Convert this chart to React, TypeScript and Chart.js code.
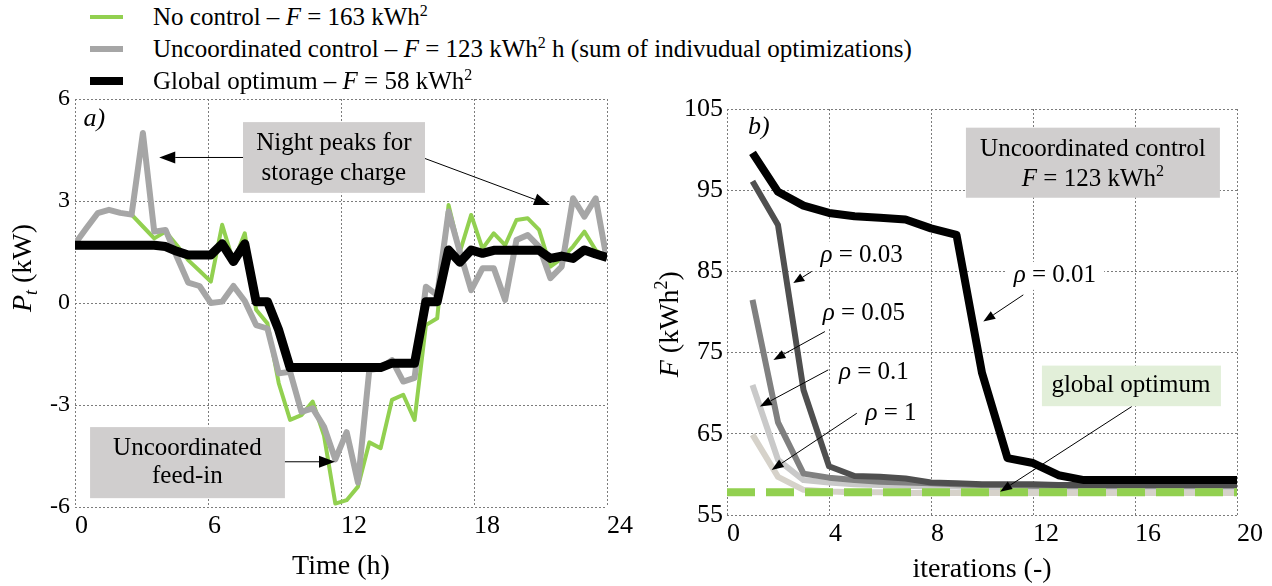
import React, { useEffect, useRef } from "react";
import { Chart, registerables } from "chart.js";

Chart.register(...registerables);

const SERIF = '"Liberation Serif", "Times New Roman", Times, serif';

// ---------------- panel a) : power profiles ----------------
const HOURS_PER_STEP = 24 / 47;
const timeHours: number[] = Array.from({ length: 48 }, (_, i) => i * HOURS_PER_STEP);

const noControlKW = [
  1.74, 2.2, 2.64, 2.74, 2.65, 2.6, 2.25, 1.9, 2.1, 1.7, 1.26, 0.95,
  0.63, 2.3, 1.2, 2.05, -0.2, -0.6, -2.36, -3.44, -3.3, -2.9, -3.9, -5.9,
  -5.8, -5.4, -4.1, -4.27, -2.85, -2.7, -3.44, -0.65, -0.45, 2.88, 1.5, 2.59,
  1.6, 2.05, 1.7, 2.44, 2.49, 2.15, 1.07, 1.31, 1.66, 2.1, 1.56, 1.3,
];

const uncoordinatedKW = [
  1.74, 2.2, 2.64, 2.74, 2.65, 2.6, 5.0, 2.1, 2.15, 1.36, 0.6, 0.5,
  0.0, 0.04, 0.5, 0.06, -0.65, -0.75, -2.07, -2.02, -3.2, -3.1, -3.64, -4.6,
  -3.8, -5.28, -1.97, -1.92, -1.68, -2.31, -2.2, 0.48, 0.23, 2.69, 1.5, 0.38,
  1.02, 1.02, 0.09, 1.85, 2.0, 1.66, 0.73, 1.07, 3.08, 2.54, 3.08, 1.26,
];

const globalOptimumKW = [
  1.7, 1.7, 1.7, 1.7, 1.7, 1.7, 1.7, 1.7, 1.66, 1.52, 1.41, 1.41,
  1.41, 1.74, 1.22, 1.74, 0.04, 0.04, -0.8, -1.9, -1.9, -1.9, -1.9, -1.9,
  -1.9, -1.9, -1.9, -1.9, -1.77, -1.77, -1.77, 0.04, 0.04, 1.56, 1.2, 1.56,
  1.46, 1.55, 1.55, 1.55, 1.55, 1.55, 1.31, 1.38, 1.31, 1.56, 1.44, 1.34,
];

const timeRange = [0, 24];
const timeTickStep = 6;
const powerRange = [-6, 6];
const powerTickStep = 3;

// ---------------- panel b) : convergence ----------------
const iterations = [1, 2, 3, 4, 5, 6, 7, 8, 9, 10, 11, 12, 13, 14, 15, 16, 17, 18, 19, 20];
const fRho001 = [99.6, 94.8, 93.1, 92.2, 91.8, 91.6, 91.4, 90.3, 89.5, 72.5, 62.0, 61.4, 59.9, 59.3, 59.3, 59.3, 59.3, 59.3, 59.3, 59.3];
const fRho003 = [96.1, 90.7, 70.4, 61.0, 59.8, 59.7, 59.5, 59.0, 58.9, 58.8, 58.8, 58.8, 58.7, 58.7, 58.7, 58.7, 58.7, 58.7, 58.7, 58.7];
const fRho005 = [81.5, 66.4, 60.1, 59.6, 59.3, 59.1, 59.0, 58.9, 58.8, 58.7, 58.7, 58.6, 58.6, 58.6, 58.6, 58.6, 58.6, 58.6, 58.6, 58.6];
const fRho01 = [71.0, 61.8, 59.3, 59.0, 58.8, 58.7, 58.6, 58.5, 58.5, 58.4, 58.4, 58.4, 58.4, 58.4, 58.4, 58.4, 58.4, 58.4, 58.4, 58.4];
const fRho1 = [64.9, 59.7, 58.1, 57.9, 57.8, 57.8, 57.7, 57.7, 57.7, 57.7, 57.7, 57.7, 57.7, 57.7, 57.7, 57.7, 57.7, 57.7, 57.7, 57.7];
const fGlobalOptimum = 57.8;
const iterationRange = [0, 20];
const iterationTickStep = 4;
const fRange = [55, 105];
const fTickStep = 10;

// ---------------- drawing helpers ----------------
type Part = { t: string; i?: boolean; sup?: boolean; sub?: boolean };

function partFont(p: Part, size: number) {
  const s = p.sup || p.sub ? Math.round(size * 0.65) : size;
  return `${p.i ? "italic " : ""}${s}px ${SERIF}`;
}

function measureRich(ctx: CanvasRenderingContext2D, parts: Part[], size: number) {
  return parts.map((p) => {
    ctx.font = partFont(p, size);
    return ctx.measureText(p.t).width;
  });
}

function drawRich(
  ctx: CanvasRenderingContext2D,
  parts: Part[],
  x: number,
  y: number,
  align: "left" | "center",
  size: number
) {
  const widths = measureRich(ctx, parts, size);
  const total = widths.reduce((a, b) => a + b, 0);
  let cx = align === "center" ? x - total / 2 : x;
  ctx.textAlign = "left";
  ctx.textBaseline = "middle";
  ctx.fillStyle = "#000";
  parts.forEach((p, k) => {
    ctx.font = partFont(p, size);
    const dy = p.sup ? -size * 0.3 : p.sub ? size * 0.28 : 0;
    ctx.fillText(p.t, cx, y + dy);
    cx += widths[k];
  });
  return total;
}

function arrow(
  ctx: CanvasRenderingContext2D,
  x1: number,
  y1: number,
  x2: number,
  y2: number,
  len: number,
  wid: number
) {
  const a = Math.atan2(y2 - y1, x2 - x1);
  const bx = x2 - len * Math.cos(a);
  const by = y2 - len * Math.sin(a);
  ctx.strokeStyle = "#000";
  ctx.lineWidth = 1;
  ctx.beginPath();
  ctx.moveTo(x1, y1);
  ctx.lineTo(bx, by);
  ctx.stroke();
  ctx.beginPath();
  ctx.moveTo(x2, y2);
  ctx.lineTo(bx + (wid / 2) * Math.sin(a), by - (wid / 2) * Math.cos(a));
  ctx.lineTo(bx - (wid / 2) * Math.sin(a), by + (wid / 2) * Math.cos(a));
  ctx.closePath();
  ctx.fillStyle = "#000";
  ctx.fill();
}

const rhoParts = (v: string): Part[] => [{ t: "ρ", i: true }, { t: " = " + v }];

// ---------------- shared axis styling ----------------
const gridStyle = { color: "#7c7c7c", lineWidth: 1, drawTicks: false };
const borderStyle = { display: false, dash: [2, 2] };

function tickFont(size: number) {
  return { family: SERIF, size };
}

// ---------------- panel a) annotations ----------------
const annotationsA = {
  id: "annotationsA",
  beforeDatasetsDraw(chart: any) {
    const { ctx } = chart;
    const { x, y } = chart.scales;
    ctx.save();
    ctx.fillStyle = "#d0cece";
    const box = (t0: number, v0: number, t1: number, v1: number) => {
      const px0 = x.getPixelForValue(t0);
      const py0 = y.getPixelForValue(v0);
      ctx.fillRect(px0, py0, x.getPixelForValue(t1) - px0, y.getPixelForValue(v1) - py0);
    };
    box(7.58, 5.32, 15.79, 3.24);
    box(0.68, -3.65, 9.47, -5.74);
    ctx.restore();
  },
  afterDatasetsDraw(chart: any) {
    const { ctx } = chart;
    const { x, y } = chart.scales;
    const X = (v: number) => x.getPixelForValue(v);
    const Y = (v: number) => y.getPixelForValue(v);
    ctx.save();
    drawRich(ctx, [{ t: "a)", i: true }], X(0.38), Y(5.42), "left", 26);
    drawRich(ctx, [{ t: "Night peaks for" }], X(11.68), Y(4.7), "center", 25);
    drawRich(ctx, [{ t: "storage charge" }], X(11.68), Y(3.81), "center", 25);
    arrow(ctx, X(7.58), Y(4.28), X(3.8), Y(4.28), 16, 12);
    arrow(ctx, X(15.79), Y(4.25), X(21.43), Y(2.88), 16, 12);
    drawRich(ctx, [{ t: "Uncoordinated" }], X(5.07), Y(-4.27), "center", 25);
    drawRich(ctx, [{ t: "feed-in" }], X(5.07), Y(-5.11), "center", 25);
    arrow(ctx, X(9.47), Y(-4.67), X(11.73), Y(-4.67), 16, 12);
    // y axis title
    ctx.translate(chart.chartArea.left - 51, Y(1.03));
    ctx.rotate(-Math.PI / 2);
    drawRich(ctx, [{ t: "P", i: true }, { t: "t", i: true, sub: true }, { t: " (kW)" }], 0, 0, "center", 28);
    ctx.restore();
  },
};

// ---------------- panel b) annotations ----------------
const annotationsB = {
  id: "annotationsB",
  beforeDatasetsDraw(chart: any) {
    const { ctx } = chart;
    const { x, y } = chart.scales;
    const X = (v: number) => x.getPixelForValue(v);
    const Y = (v: number) => y.getPixelForValue(v);
    ctx.save();
    const box = (t0: number, v0: number, t1: number, v1: number, c: string) => {
      ctx.fillStyle = c;
      ctx.fillRect(X(t0), Y(v0), X(t1) - X(t0), Y(v1) - Y(v0));
    };
    box(9.37, 102.7, 19.33, 94.07, "#d0cece");
    box(12.35, 73.4, 19.37, 68.4, "#e2efd9");
    const labels: [string, number, number][] = [
      ["0.03", 5.28, 86.96],
      ["0.05", 5.37, 79.77],
      ["0.1", 5.76, 72.5],
      ["1", 6.43, 67.45],
      ["0.01", 12.86, 84.45],
    ];
    labels.forEach(([v, it, f]) => {
      const w = measureRich(ctx, rhoParts(v), 25).reduce((a, b) => a + b, 0);
      ctx.fillStyle = "#fff";
      ctx.fillRect(X(it) - w / 2 - 8, Y(f) - 14, w + 16, 28);
    });
    ctx.restore();
  },
  afterDatasetsDraw(chart: any) {
    const { ctx } = chart;
    const { x, y } = chart.scales;
    const X = (v: number) => x.getPixelForValue(v);
    const Y = (v: number) => y.getPixelForValue(v);
    ctx.save();
    drawRich(ctx, [{ t: "b)", i: true }], X(0.82), Y(102.76), "left", 26);
    drawRich(ctx, [{ t: "Uncoordinated control" }], X(14.35), Y(100.0), "center", 25);
    drawRich(ctx, [{ t: "F", i: true }, { t: " = 123 kWh" }, { t: "2", sup: true }], X(14.35), Y(96.29), "center", 25);
    drawRich(ctx, [{ t: "global optimum" }], X(15.84), Y(70.9), "center", 25);

    drawRich(ctx, rhoParts("0.03"), X(5.28), Y(86.96), "center", 25);
    drawRich(ctx, rhoParts("0.05"), X(5.37), Y(79.77), "center", 25);
    drawRich(ctx, rhoParts("0.1"), X(5.76), Y(72.5), "center", 25);
    drawRich(ctx, rhoParts("1"), X(6.43), Y(67.45), "center", 25);
    drawRich(ctx, rhoParts("0.01"), X(12.86), Y(84.45), "center", 25);

    arrow(ctx, X(3.32), Y(84.99), X(2.6), Y(83.56), 11, 9);
    arrow(ctx, X(3.84), Y(77.59), X(1.82), Y(74.1), 12, 9);
    arrow(ctx, X(3.97), Y(72.87), X(1.29), Y(68.35), 12, 9);
    arrow(ctx, X(5.09), Y(67.53), X(1.75), Y(60.55), 12, 9);
    arrow(ctx, X(11.62), Y(82.11), X(10.05), Y(78.82), 12, 9);
    arrow(ctx, X(15.87), Y(68.35), X(10.71), Y(57.87), 12, 9);

    ctx.translate(chart.chartArea.left - 56, Y(78.5));
    ctx.rotate(-Math.PI / 2);
    drawRich(ctx, [{ t: "F", i: true }, { t: " (kWh" }, { t: "2", sup: true }, { t: ")" }], 0, 0, "center", 28);
    ctx.restore();
  },
};

function lineDs(label: string, xs: number[], ys: number[], color: string, width: number, order: number, extra: any = {}) {
  return {
    label,
    data: xs.map((xv, i) => ({ x: xv, y: ys[i] })),
    borderColor: color,
    backgroundColor: color,
    borderWidth: width,
    pointRadius: 0,
    tension: 0,
    fill: false,
    borderJoinStyle: "round" as const,
    order,
    ...extra,
  };
}

const supStyle: React.CSSProperties = { fontSize: 16, position: "relative", top: -9, verticalAlign: "baseline", lineHeight: 0 };

export default function App() {
  const leftRef = useRef<HTMLCanvasElement>(null);
  const rightRef = useRef<HTMLCanvasElement>(null);

  useEffect(() => {
    const left = new Chart(leftRef.current as HTMLCanvasElement, {
      type: "line",
      data: {
        datasets: [
          lineDs("Global optimum", timeHours, globalOptimumKW, "#000000", 9, 0),
          lineDs("Uncoordinated control", timeHours, uncoordinatedKW, "#a6a6a6", 6, 1),
          lineDs("No control", timeHours, noControlKW, "#92d050", 4, 2),
        ],
      },
      options: {
        animation: false,
        responsive: false,
        maintainAspectRatio: false,
        events: [],
        layout: { padding: { left: 0, right: 33, top: 19, bottom: 0 } },
        plugins: { legend: { display: false }, tooltip: { enabled: false } },
        scales: {
          x: {
            type: "linear",
            min: timeRange[0],
            max: timeRange[1],
            ticks: { stepSize: timeTickStep, align: "start", color: "#000", font: tickFont(26), padding: 4, maxRotation: 0 },
            grid: gridStyle,
            border: borderStyle,
            title: { display: true, text: "Time (h)", color: "#000", font: tickFont(28), padding: { top: 0, bottom: 3 } },
            afterFit: (s: any) => {
              s.height = 79;
              s.paddingLeft = 0;
              s.paddingRight = 0;
            },
          },
          y: {
            type: "linear",
            min: powerRange[0],
            max: powerRange[1],
            ticks: { stepSize: powerTickStep, color: "#000", font: tickFont(24), padding: 5 },
            grid: gridStyle,
            border: borderStyle,
            afterFit: (s: any) => {
              s.width = 75;
              s.paddingTop = 0;
              s.paddingBottom = 0;
            },
          },
        },
      } as any,
      plugins: [annotationsA as any],
    });

    const right = new Chart(rightRef.current as HTMLCanvasElement, {
      type: "line",
      data: {
        datasets: [
          lineDs("ρ = 0.01", iterations, fRho001, "#000000", 8, 0),
          lineDs("global optimum", iterationRange, iterationRange.map(() => fGlobalOptimum), "#92d050", 8, 1, {
            borderDash: [28, 11],
            borderCapStyle: "butt",
          }),
          lineDs("ρ = 0.03", iterations, fRho003, "#4f4f4f", 6, 2),
          lineDs("ρ = 0.05", iterations, fRho005, "#808080", 6, 3),
          lineDs("ρ = 1", iterations, fRho1, "#d6d2ca", 6, 4),
          lineDs("ρ = 0.1", iterations, fRho01, "#c9c9c9", 6, 5),
        ],
      },
      options: {
        animation: false,
        responsive: false,
        maintainAspectRatio: false,
        events: [],
        layout: { padding: { left: 0, right: 35, top: 29, bottom: 0 } },
        plugins: { legend: { display: false }, tooltip: { enabled: false } },
        scales: {
          x: {
            type: "linear",
            min: iterationRange[0],
            max: iterationRange[1],
            ticks: { stepSize: iterationTickStep, align: "start", color: "#000", font: tickFont(26), padding: 4, maxRotation: 0 },
            grid: gridStyle,
            border: borderStyle,
            title: { display: true, text: "iterations (-)", color: "#000", font: tickFont(28), padding: { top: 0, bottom: 0 } },
            afterFit: (s: any) => {
              s.height = 71;
              s.paddingLeft = 0;
              s.paddingRight = 0;
            },
          },
          y: {
            type: "linear",
            min: fRange[0],
            max: fRange[1],
            ticks: { stepSize: fTickStep, color: "#000", font: tickFont(26), padding: 4 },
            grid: gridStyle,
            border: borderStyle,
            afterFit: (s: any) => {
              s.width = 87;
              s.paddingTop = 0;
              s.paddingBottom = 0;
            },
          },
        },
      } as any,
      plugins: [annotationsB as any],
    });

    return () => {
      left.destroy();
      right.destroy();
    };
  }, []);

  const legendRows = [
    { color: "#92d050", h: 4, y: 17, content: <>No control – <i>F</i> = 163 kWh<span style={supStyle}>2</span></> },
    {
      color: "#a6a6a6",
      h: 6,
      y: 49,
      content: <>Uncoordinated control – <i>F</i> = 123 kWh<span style={supStyle}>2</span> h (sum of indivudual optimizations)</>,
    },
    { color: "#000000", h: 8, y: 81, content: <>Global optimum – <i>F</i> = 58 kWh<span style={supStyle}>2</span></> },
  ];

  return (
    <div
      style={{
        position: "absolute",
        left: 0,
        top: 0,
        width: 1272,
        height: 586,
        background: "#fff",
        overflow: "hidden",
        fontFamily: SERIF,
      }}
    >
      <canvas ref={leftRef} width={640} height={506} style={{ position: "absolute", left: 0, top: 80, width: 640, height: 506 }} />
      <canvas ref={rightRef} width={632} height={506} style={{ position: "absolute", left: 640, top: 80, width: 632, height: 506 }} />
      {legendRows.map((r, i) => (
        <div key={i}>
          <div style={{ position: "absolute", left: 90, top: r.y - r.h / 2, width: 33, height: r.h, background: r.color }} />
          <div
            style={{
              position: "absolute",
              left: 153,
              top: r.y - 15,
              height: 30,
              lineHeight: "30px",
              fontSize: 25,
              whiteSpace: "nowrap",
              color: "#000",
            }}
          >
            {r.content}
          </div>
        </div>
      ))}
    </div>
  );
}
